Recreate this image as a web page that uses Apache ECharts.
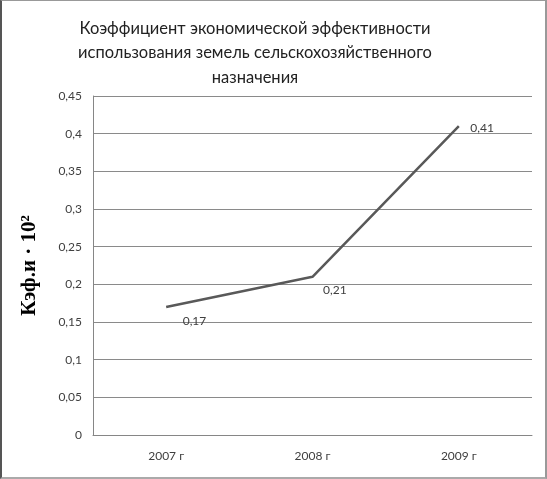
<!DOCTYPE html>
<html>
<head>
<meta charset="utf-8">
<script src="https://cdn.jsdelivr.net/npm/echarts@6/dist/echarts.min.js"></script>
<style>
  html, body { margin: 0; padding: 0; background: #fff; }
  #chart { width: 547px; height: 479px; box-sizing: border-box;
           border-left: 2px solid #555; border-top: 1px solid #999;
           border-right: 2px solid #999; border-bottom: 2px solid #aaa; }
</style>
</head>
<body>
<div id="chart"></div>
<script>
// Коэффициент экономической эффективности по годам
const years = ['2007 г', '2008 г', '2009 г'];
const coefValues = [0.17, 0.21, 0.41];
const titleLines = [
  'Коэффициент экономической эффективности',
  'использования земель сельскохозяйственного',
  'назначения'
];
const axisTitle = 'Кэф.и · 10²';

const fmt = v => {
  let s = (+v).toFixed(2).replace(/0+$/, '').replace(/\.$/, '');
  return s.replace('.', ',');
};

const chart = echarts.init(document.getElementById('chart'), null, { renderer: 'canvas' });

// label offsets (px) relative to the right of each point
const labelOffsets = [[11, 14], [5, 13], [6, 2]];

chart.setOption({
  animation: false,
  backgroundColor: '#fff',
  graphic: titleLines.map((t, i) => ({
    type: 'text',
    x: 253,
    y: 19 + i * 24.5,
    style: {
      text: t,
      font: '16.5px Lato, "Liberation Sans", sans-serif',
      fill: '#222',
      textAlign: 'center'
    }
  })),
  grid: { left: 91, right: 13, top: 95, bottom: 42 },
  xAxis: {
    type: 'category',
    data: years,
    boundaryGap: true,
    axisLine: { lineStyle: { color: '#868686', width: 1 } },
    axisTick: { show: false },
    axisLabel: { color: '#404040', fontSize: 12, margin: 15, fontFamily: 'Lato, "Liberation Sans", sans-serif' }
  },
  yAxis: {
    type: 'value',
    min: 0, max: 0.45, interval: 0.05,
    name: axisTitle,
    nameLocation: 'middle',
    nameGap: 53,
    nameRotate: 90,
    nameTextStyle: { fontFamily: '"Liberation Serif", "DejaVu Serif", serif', fontWeight: 'bold', fontSize: 21, color: '#000' },
    axisLine: { show: true, lineStyle: { color: '#868686', width: 1 } },
    axisTick: { show: false },
    axisLabel: { color: '#404040', fontSize: 12, margin: 11, formatter: fmt, fontFamily: 'Lato, "Liberation Sans", sans-serif' },
    splitLine: { lineStyle: { color: '#8a8a8a', width: 1 } }
  },
  series: [{
    type: 'line',
    data: coefValues.map((v, i) => ({
      value: v,
      label: { offset: labelOffsets[i] }
    })),
    showSymbol: true,
    symbol: 'circle',
    symbolSize: 1,
    itemStyle: { color: 'rgba(0,0,0,0)' },
    lineStyle: { color: '#595959', width: 2.5 },
    label: {
      show: true,
      position: 'right',
      formatter: p => fmt(p.value),
      color: '#404040',
      fontSize: 12,
      fontFamily: 'Lato, "Liberation Sans", sans-serif'
    }
  }]
});
</script>
</body>
</html>
